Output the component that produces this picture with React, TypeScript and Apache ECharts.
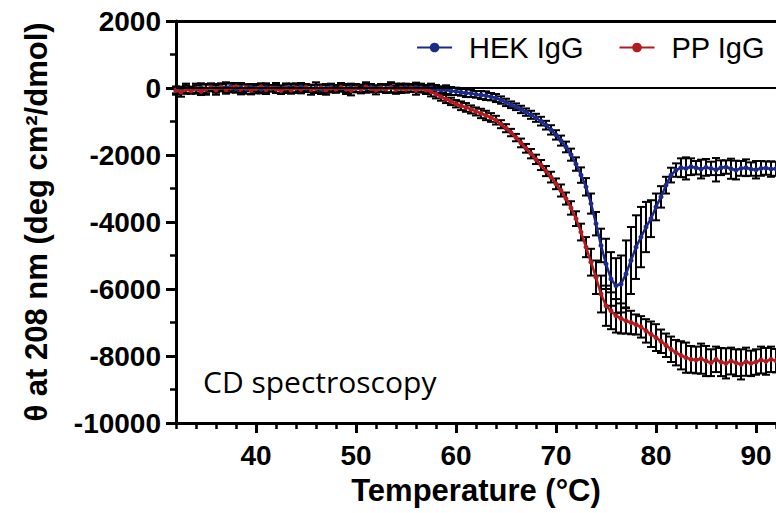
import { useEffect, useRef } from "react";
import * as echarts from "echarts";

const temps = [
  32, 32.5, 33, 33.5, 34, 34.5, 35, 35.5, 36, 36.5, 37, 37.5, 38, 38.5, 39, 39.5,
  40, 40.5, 41, 41.5, 42, 42.5, 43, 43.5, 44, 44.5, 45, 45.5, 46, 46.5, 47, 47.5,
  48, 48.5, 49, 49.5, 50, 50.5, 51, 51.5, 52, 52.5, 53, 53.5, 54, 54.5, 55, 55.5,
  56, 56.5, 57, 57.5, 58, 58.5, 59, 59.5, 60, 60.5, 61, 61.5, 62, 62.5, 63, 63.5,
  64, 64.5, 65, 65.5, 66, 66.5, 67, 67.5, 68, 68.5, 69, 69.5, 70, 70.5, 71, 71.5,
  72, 72.5, 73, 73.5, 74, 74.5, 75, 75.5, 76, 76.5, 77, 77.5, 78, 78.5, 79, 79.5,
  80, 80.5, 81, 81.5, 82, 82.5, 83, 83.5, 84, 84.5, 85, 85.5, 86, 86.5, 87, 87.5,
  88, 88.5, 89, 89.5, 90, 90.5, 91, 91.5, 92,
];

const hekValues = [
  -80, -50, -20, -60, -30, 0, -40, 20, -10, 30, 0, 40, -20, 10, -30, 20,
  -10, -40, 10, -20, 0, -30, 20, 0, -10, 30, 0, -20, 10, -40, -10, 20,
  -20, 0, -30, 10, -10, -30, 0, 20, -20, 0, -10, 20, -20, 0, 10, -10,
  20, 0, -20, 10, -30, -60, -50, -90, -100, -130, -150, -160, -190, -210, -230, -260,
  -300, -360, -430, -500, -560, -640, -720, -800, -890, -990, -1110, -1250, -1400, -1570, -1760, -1990,
  -2270, -2600, -2950, -3450, -4050, -4700, -5250, -5700, -5900, -5850, -5550, -5150, -4750, -4450, -4150, -3900,
  -3550, -3250, -2900, -2600, -2450, -2380, -2400, -2350, -2380, -2420, -2370, -2400, -2440, -2380, -2360, -2410,
  -2450, -2400, -2380, -2420, -2440, -2400, -2390, -2420, -2410,
];

const ppValues = [
  -60, -120, -40, -80, -20, -100, -30, 10, -60, 20, -50, 0, 40, -40, 10, -70,
  -20, 30, -50, 0, -30, -80, -10, -60, 0, -40, 20, -50, -20, 10, -60, -10,
  -40, 20, -30, -70, 0, -40, 30, -20, -60, 0, -30, 10, -50, -10, -40, 0,
  -70, -20, -60, -110, -180, -260, -330, -400, -470, -530, -580, -640, -700, -760, -820, -880,
  -960, -1080, -1200, -1330, -1480, -1640, -1800, -1960, -2130, -2300, -2480, -2660, -2860, -3060, -3300, -3580,
  -3900, -4300, -4750, -5200, -5650, -6150, -6500, -6650, -6800, -6880, -6950, -7000, -7060, -7130, -7250, -7350,
  -7450, -7560, -7680, -7800, -7900, -7980, -8050, -8100, -8120, -8080, -8150, -8200, -8100, -8180, -8220, -8150,
  -8200, -8250, -8170, -8220, -8180, -8120, -8160, -8100, -8140,
];

const hekErr = [
  120, 90, 150, 100, 110, 140, 160, 120, 130, 90, 170, 110, 120, 140, 140, 100,
  100, 120, 130, 90, 150, 110, 110, 130, 140, 120, 120, 100, 160, 140, 130, 110,
  110, 90, 150, 120, 120, 130, 140, 100, 100, 120, 130, 150, 150, 110, 120, 100,
  140, 130, 110, 120, 120, 110, 130, 120, 110, 100, 120, 110, 100, 120, 130, 110,
  120, 110, 110, 100, 100, 110, 110, 120, 120, 130, 130, 140, 140, 150, 160, 180,
  200, 230, 260, 300, 350, 500, 750, 800, 820, 850, 1000, 1000, 950, 900, 750, 550,
  400, 320, 250, 220, 200, 280, 330, 250, 200, 280, 250, 200, 350, 220, 200, 300,
  280, 220, 250, 200, 260, 220, 200, 230, 210,
];

const ppErr = [
  100, 140, 120, 90, 150, 110, 130, 100, 140, 120, 90, 130, 110, 150, 100, 120,
  140, 110, 130, 90, 120, 100, 140, 110, 130, 120, 100, 150, 110, 90, 140, 120,
  100, 130, 110, 150, 120, 90, 140, 110, 130, 100, 120, 150, 110, 140, 100, 120,
  130, 110, 120, 140, 130, 120, 120, 110, 110, 130, 130, 120, 120, 140, 140, 130,
  130, 120, 120, 110, 110, 130, 130, 140, 140, 150, 150, 160, 160, 180, 180, 200,
  220, 250, 300, 400, 500, 550, 600, 550, 500, 450, 380, 350, 300, 320, 350, 380,
  400, 350, 350, 380, 380, 420, 450, 400, 400, 450, 450, 400, 380, 420, 450, 400,
  400, 450, 420, 380, 380, 400, 400, 380, 350,
];

const xLabelValues = [40, 50, 60, 70, 80, 90];
const seriesNames = ["HEK IgG", "PP IgG"];
const seriesColors = ["#1c2a8c", "#b41a1e"];

const FONT = "'Liberation Sans', Arial, sans-serif";

function errorData(values: number[], errs: number[]) {
  return temps.map((t, i) => [t, values[i], errs[i]]);
}

function errorRender(params: any, api: any) {
  const x = api.value(0);
  const y = api.value(1);
  const e = api.value(2);
  const top = api.coord([x, y + e]);
  const bot = api.coord([x, y - e]);
  const hw = 4;
  const style = { stroke: "#000", lineWidth: 2 };
  return {
    type: "group",
    children: [
      { type: "line", shape: { x1: top[0], y1: top[1], x2: bot[0], y2: bot[1] }, style },
      { type: "line", shape: { x1: top[0] - hw, y1: top[1], x2: top[0] + hw, y2: top[1] }, style },
      { type: "line", shape: { x1: bot[0] - hw, y1: bot[1], x2: bot[0] + hw, y2: bot[1] }, style },
    ],
  };
}

export default function App() {
  const ref = useRef<HTMLDivElement>(null);
  useEffect(() => {
    if (!ref.current) return;
    const chart = echarts.init(ref.current, null, { renderer: "svg" });
    const option: any = {
      animation: false,
      backgroundColor: "#fff",
      grid: { left: 176, right: 0, top: 21, bottom: 90, containLabel: false },
      legend: {
        data: seriesNames,
        right: 6,
        top: 28,
        itemWidth: 35,
        itemHeight: 12,
        itemGap: 35,
        textStyle: { fontSize: 29, fontFamily: FONT, color: "#000", padding: [0, 0, 0, 12] },
      },
      xAxis: [
        {
          type: "value",
          min: 32,
          max: 92,
          interval: 2,
          position: "bottom",
          name: "Temperature (°C)",
          nameLocation: "middle",
          nameGap: 52,
          nameTextStyle: { fontSize: 31, fontWeight: "bold", fontFamily: FONT, color: "#000" },
          axisLine: { show: true, onZero: false, lineStyle: { color: "#000", width: 3 } },
          axisTick: { show: true, length: 6, lineStyle: { color: "#000", width: 2.5 } },
          axisLabel: {
            customValues: xLabelValues,
            formatter: (v: number) => String(v),
            fontSize: 28,
            fontWeight: "bold",
            fontFamily: FONT,
            color: "#000",
            margin: 18,
          },
          splitLine: { show: false },
        },
        {
          type: "value",
          min: 32,
          max: 92,
          position: "bottom",
          axisLine: { show: false, onZero: false },
          axisTick: { show: true, customValues: xLabelValues, length: 10, lineStyle: { color: "#000", width: 3 } },
          axisLabel: { show: false },
          splitLine: { show: false },
        },
        {
          type: "value",
          min: 32,
          max: 92,
          position: "top",
          axisLine: { show: true, onZero: false, lineStyle: { color: "#000", width: 3 } },
          axisTick: { show: false },
          axisLabel: { show: false },
          splitLine: { show: false },
        },
      ],
      yAxis: {
        type: "value",
        min: -10000,
        max: 2000,
        interval: 2000,
        name: "θ at 208 nm (deg cm²/dmol)",
        nameLocation: "middle",
        nameGap: 124,
        nameTextStyle: { fontSize: 31, fontWeight: "bold", fontFamily: FONT, color: "#000" },
        axisLine: { show: true, onZero: false, lineStyle: { color: "#000", width: 3 } },
        axisTick: { show: true, length: 10, lineStyle: { color: "#000", width: 3 } },
        minorTick: { show: true, splitNumber: 2, length: 6, lineStyle: { color: "#000", width: 2.5 } },
        axisLabel: {
          formatter: (v: number) => String(v),
          fontSize: 28,
          fontWeight: "bold",
          fontFamily: FONT,
          color: "#000",
          margin: 15,
        },
        splitLine: { show: false },
      },
      series: [
        {
          type: "custom",
          name: "hekErr",
          renderItem: errorRender,
          data: errorData(hekValues, hekErr),
          encode: { x: 0, y: 1 },
          z: 1,
          silent: true,
        },
        {
          type: "custom",
          name: "ppErr",
          renderItem: errorRender,
          data: errorData(ppValues, ppErr),
          encode: { x: 0, y: 1 },
          z: 1,
          silent: true,
        },
        {
          type: "line",
          name: seriesNames[0],
          data: temps.map((t, i) => [t, hekValues[i]]),
          symbol: "circle",
          symbolSize: 5,
          showSymbol: true,
          itemStyle: { color: seriesColors[0] },
          lineStyle: { color: seriesColors[0], width: 2.5 },
          z: 3,
          markLine: {
            silent: true,
            symbol: "none",
            label: { show: false },
            lineStyle: { color: "#000", width: 2, type: "solid" },
            data: [{ yAxis: 0 }],
          },
        },
        {
          type: "line",
          name: seriesNames[1],
          data: temps.map((t, i) => [t, ppValues[i]]),
          symbol: "circle",
          symbolSize: 5,
          showSymbol: true,
          itemStyle: { color: seriesColors[1] },
          lineStyle: { color: seriesColors[1], width: 2.5 },
          z: 4,
        },
      ],
      graphic: [
        {
          type: "text",
          left: 203,
          top: 366,
          style: {
            text: "CD spectroscopy",
            fontSize: 30,
            fontFamily: "'Open Sans', 'Noto Sans', sans-serif",
            fill: "#000",
          },
        },
      ],
    };
    chart.setOption(option);
    return () => chart.dispose();
  }, []);
  return (
    <div
      ref={ref}
      style={{ position: "fixed", left: 0, top: 0, width: 776, height: 513 }}
    />
  );
}
